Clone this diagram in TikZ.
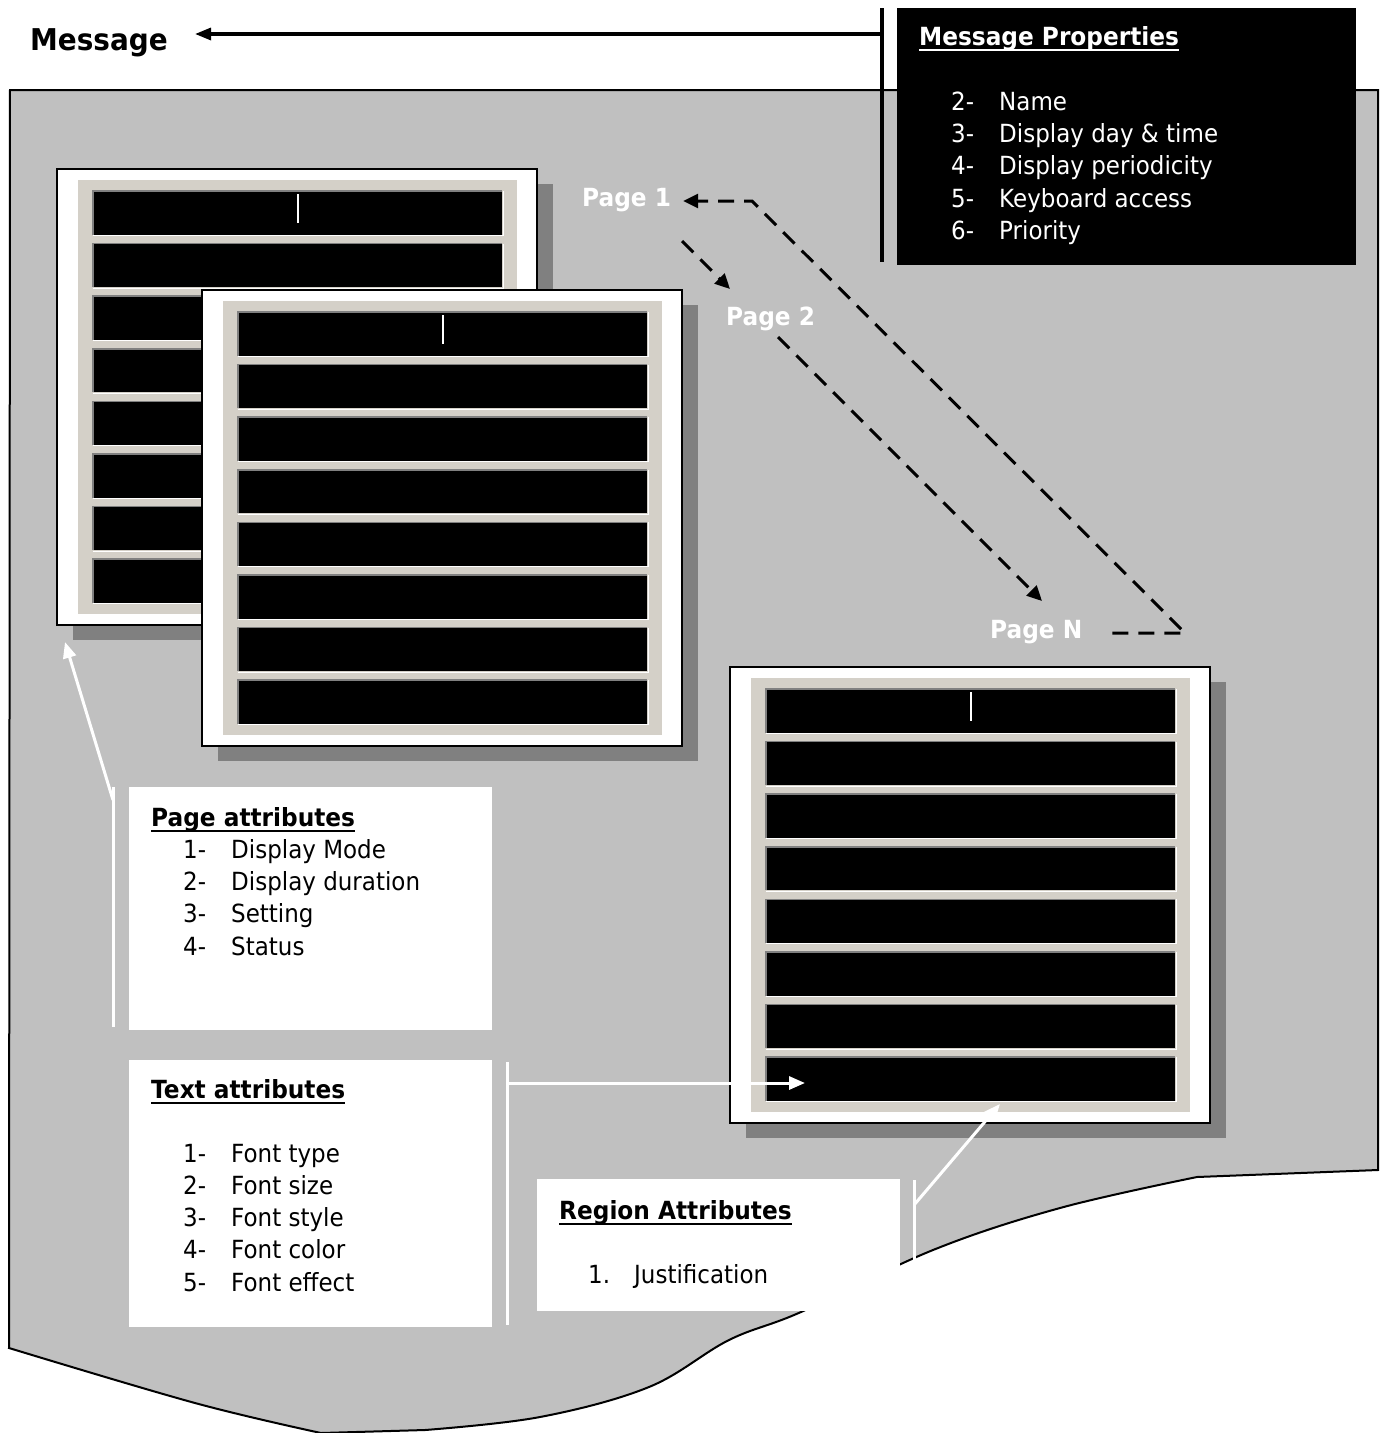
\documentclass[tikz,border=0pt]{standalone}
\usepackage{fontspec}
\setmainfont{DejaVu Sans}[FakeStretch=0.92, BoldFeatures={FakeStretch=0.93}]
\usetikzlibrary{arrows.meta}
\definecolor{panelgray}{HTML}{C0C0C0}
\definecolor{shadowgray}{HTML}{808080}
\definecolor{facegray}{HTML}{D4D0C8}
\begin{document}
\begin{tikzpicture}[x=1pt, y=-1pt,
        itemtext/.style={font=\fontsize{25}{30}\selectfont, inner sep=0pt, anchor=base west},
        headtext/.style={font=\fontsize{25}{30}\selectfont\bfseries, inner sep=0pt, anchor=base west},
        underline/.style={line width=2.4pt},
        pagelabel/.style={font=\fontsize{25}{30}\selectfont\bfseries, text=white, inner sep=0pt, anchor=base west},
        infobox/.style={fill=white, inner sep=0pt, anchor=north west},
        dashline/.style={line width=3pt, dash pattern=on 16pt off 10pt, -{Triangle[length=15pt,width=14pt]}},
        whitearrow/.style={white, line width=3pt, -{Triangle[length=16pt,width=13pt]}},
        whitebar/.style={white, line width=3pt}]
    \useasboundingbox (0,0) rectangle (1382,1433);
    \draw[fill=panelgray, line width=2pt] (10,90) -- (1378,90) -- (1378,1170)
        -- plot[smooth, tension=0.6] coordinates {(1197,1177) (1060,1208) (933,1250) (801,1312)
            (729,1340) (649,1387) (540,1417) (425,1430)}
        -- plot[smooth, tension=0.6] coordinates {(321,1433) (195,1403) (9,1348)} -- cycle;
    % message and its properties
    \node[font=\fontsize{30}{36}\selectfont\bfseries, inner sep=0pt, anchor=base west] (msg) at (30,50) {Message};
    \draw[line width=3.2pt] (882,8) -- (882,262);
    \coordinate (propbar) at (882,34);
    \draw[line width=3.2pt, -{Triangle[length=16pt,width=12pt]}, shorten >=27pt] (propbar) -- (propbar -| msg.east);
    \node[fill=black, minimum width=459pt, minimum height=257pt, inner sep=0pt, anchor=north west] (props) at (897,8) {};
    \node[headtext, text=white] (props-head) at (919,45) {Message Properties};
    \draw[underline, white] ([yshift=-5pt]props-head.base west) -- ([yshift=-5pt]props-head.base east);
    \foreach \num/\txt [count=\k from 0] in {2-/Name, 3-/Display day \& time, 4-/Display periodicity,
            5-/Keyboard access, 6-/Priority} {
        \node[itemtext, text=white] (props-num-\k) at (951,{110+32.4*\k}) {\num};
        \node[itemtext, text=white] (props-txt-\k) at (999,{110+32.4*\k}) {\txt};
    }
    % the pages
    \foreach \px/\py in {57/169, 202/290, 730/667} {
        \begin{scope}[shift={(\px,\py)}]
            \fill[shadowgray] (16,15) rectangle (496,471);
            \draw[fill=white, line width=2pt] (0,0) rectangle (480,456);
            \fill[facegray] (21,11) rectangle (460,445);
            \foreach \r [evaluate=\r as \t using 22+52.6*\r] in {0,...,7} {
                \fill[black] (36,\t) rectangle (445,\t+43.5);
                \draw[shadowgray, line width=1.5pt] (36,\t+43.5) -- (36,\t) -- (445,\t);
                \draw[white, line width=1pt] (36,\t+44.5) -- (446,\t+44.5) -- (446,\t);
            }
            \draw[white, line width=1.5pt] (241,25) -- (241,54);
        \end{scope}
    }
    \node[pagelabel] (p1) at (582,206) {Page 1};
    \node[pagelabel] (p2) at (726,325) {Page 2};
    \node[pagelabel] (pN) at (990,638) {Page N};
    \coordinate (bendN) at (1185,633);
    \coordinate (bend1) at (752,201);
    \draw[dashline, shorten <=30pt, shorten >=12pt] (bendN -| pN.east) -- (bendN) -- (bend1) -- (bend1 -| p1.east);
    \coordinate (p1-out) at (682,241);
    \coordinate (p2-in) at (730,289);
    \draw[dashline] (p1-out) -- (p2-in);
    \coordinate (p2-out) at (778,337);
    \coordinate (pN-in) at (1042,601);
    \draw[dashline] (p2-out) -- (pN-in);
    % attribute boxes
    \node[infobox, minimum width=363pt, minimum height=243pt] (pageattr) at (129,787) {};
    \node[headtext] (pageattr-head) at (151,826) {Page attributes};
    \foreach \txt [count=\k from 0] in {Display Mode, Display duration, Setting, Status} {
        \pgfmathtruncatemacro{\n}{\k+1}
        \node[itemtext] (pageattr-num-\k) at (183,{858+32.4*\k}) {\n-};
        \node[itemtext] (pageattr-txt-\k) at (231,{858+32.4*\k}) {\txt};
    }
    \draw[whitebar] (113,787) -- (113,1027);
    \coordinate (page-corner) at (65,642);
    \draw[whitearrow] (113,800) -- (page-corner);
    \node[infobox, minimum width=363pt, minimum height=267pt] (textattr) at (129,1060) {};
    \node[headtext] (textattr-head) at (151,1098) {Text attributes};
    \foreach \txt [count=\k from 0] in {Font type, Font size, Font style, Font color, Font effect} {
        \pgfmathtruncatemacro{\n}{\k+1}
        \node[itemtext] (textattr-num-\k) at (183,{1162+32.3*\k}) {\n-};
        \node[itemtext] (textattr-txt-\k) at (231,{1162+32.3*\k}) {\txt};
    }
    \draw[whitebar] (507,1062) -- (507,1325);
    \coordinate (text-row) at (805,1083);
    \draw[whitearrow] (507,1083) -- (text-row);
    \node[infobox, minimum width=363pt, minimum height=132pt] (regattr) at (537,1179) {};
    \node[headtext] (regattr-head) at (559,1219) {Region Attributes};
    \node[itemtext] (regattr-num) at (588,1283) {1.};
    \node[itemtext] (regattr-txt) at (634,1283) {Justification};
    \foreach \h in {pageattr-head, textattr-head, regattr-head}
        \draw[underline] ([yshift=-5pt]\h.base west) -- ([yshift=-5pt]\h.base east);
    \draw[whitebar] (914,1180) -- (914,1262);
    \coordinate (region-face) at (1000,1104);
    \draw[whitearrow] (914,1205) -- (region-face);
\end{tikzpicture}
\end{document}
